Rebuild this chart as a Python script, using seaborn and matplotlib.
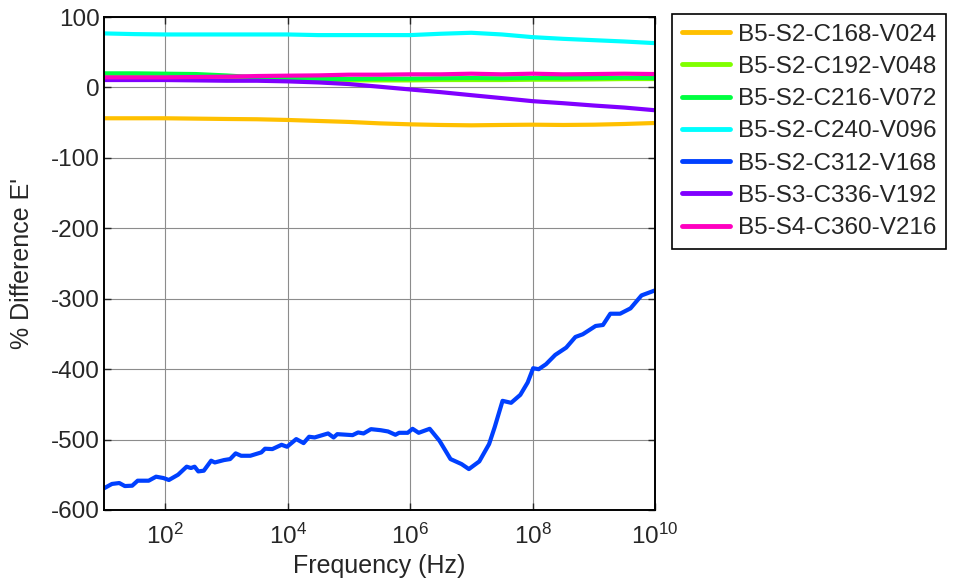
import numpy as np
import pandas as pd
import matplotlib
matplotlib.use("Agg")
import matplotlib.pyplot as plt
import seaborn as sns

# log10 of frequency (Hz) for the smooth series
log_f = [1.0, 1.5, 2.0, 2.5, 3.0, 3.5, 4.0, 4.5, 5.0, 5.5,
         6.0, 6.5, 7.0, 7.5, 8.0, 8.5, 9.0, 9.5, 10.0]

v024 = [-43.8, -43.8, -43.8, -44.3, -44.8, -45.2, -46.2, -47.6, -49.0, -51.0,
        -52.4, -53.3, -53.8, -53.3, -52.9, -53.3, -52.9, -51.9, -50.5]
v048 = [19.0, 18.6, 18.1, 17.1, 15.2, 13.3, 11.4, 10.5, 10.0, 10.0,
        10.0, 10.5, 10.5, 10.5, 11.0, 11.0, 11.4, 11.9, 11.9]
v072 = [20.0, 20.0, 19.5, 19.0, 17.0, 14.3, 12.9, 11.9, 11.9, 12.4,
        12.4, 12.9, 13.3, 12.9, 13.3, 13.3, 13.3, 13.8, 13.3]
v096 = [76.7, 75.7, 75.2, 75.2, 75.2, 75.2, 75.2, 74.3, 74.3, 74.3,
        74.3, 76.2, 77.6, 75.2, 71.4, 69.0, 67.1, 65.2, 62.9]
v192 = [10.5, 10.5, 10.5, 10.0, 9.5, 9.5, 8.6, 7.1, 4.8, 1.0,
        -2.9, -6.7, -11.0, -15.2, -19.5, -22.4, -25.7, -28.6, -32.4]
v216 = [14.3, 14.3, 14.3, 14.8, 15.2, 16.2, 16.7, 17.1, 18.1, 18.1,
        18.6, 18.6, 19.5, 18.6, 19.5, 18.6, 19.0, 19.5, 19.0]

# V168 series, sampled more densely (log10 frequency, % difference)
log_f168 = [1.00, 1.13, 1.25, 1.34, 1.46, 1.55, 1.73, 1.85, 1.97, 2.06,
            2.21, 2.35, 2.42, 2.48, 2.54, 2.63, 2.75, 2.81, 2.96, 3.06,
            3.15, 3.24, 3.39, 3.57, 3.63, 3.75, 3.90, 3.99, 4.14, 4.26,
            4.35, 4.44, 4.66, 4.75, 4.81, 5.06, 5.15, 5.24, 5.36, 5.52,
            5.64, 5.76, 5.82, 5.96, 6.04, 6.14, 6.32, 6.48, 6.66, 6.84,
            6.96, 7.13, 7.29, 7.38, 7.51, 7.65, 7.80, 7.92, 8.01, 8.10,
            8.22, 8.37, 8.55, 8.70, 8.82, 9.03, 9.15, 9.27, 9.43, 9.60,
            9.78, 10.00]
v168 = [-569.2, -563.0, -561.7, -566.0, -565.5, -558.4, -558.4, -552.7, -554.6, -557.4,
        -549.9, -538.5, -540.4, -538.5, -545.2, -544.2, -530.0, -532.5, -529.1, -527.7,
        -519.6, -523.0, -523.0, -518.2, -513.0, -513.5, -507.4, -510.2, -499.3, -505.0,
        -496.0, -497.0, -491.3, -497.0, -492.3, -493.7, -489.9, -491.3, -485.2, -486.7,
        -488.5, -493.2, -490.4, -490.4, -484.7, -490.4, -484.7, -501.7, -527.7, -534.8,
        -541.9, -531.0, -506.4, -482.8, -445.0, -447.8, -436.5, -419.0, -398.7, -400.1,
        -393.0, -379.8, -369.4, -354.3, -350.5, -338.7, -337.3, -321.3, -321.3, -313.7,
        -295.3, -288.2]

labels = ["B5-S2-C168-V024", "B5-S2-C192-V048", "B5-S2-C216-V072",
          "B5-S2-C240-V096", "B5-S2-C312-V168", "B5-S3-C336-V192",
          "B5-S4-C360-V216"]
colors = ["#FFC000", "#80FF00", "#00FF40", "#00FFFF", "#0040FF", "#8000FF", "#FF00C0"]

x_ticks = [1e2, 1e4, 1e6, 1e8, 1e10]
y_ticks = [-600, -500, -400, -300, -200, -100, 0, 100]

series = {
    labels[0]: (log_f, v024),
    labels[1]: (log_f, v048),
    labels[2]: (log_f, v072),
    labels[3]: (log_f, v096),
    labels[4]: (log_f168, v168),
    labels[5]: (log_f, v192),
    labels[6]: (log_f, v216),
}
frames = []
for name, (lf, vals) in series.items():
    frames.append(pd.DataFrame({"freq": 10.0 ** np.asarray(lf),
                                "diff": vals, "series": name}))
df = pd.concat(frames, ignore_index=True)

sns.set_style("ticks")
plt.rcParams["font.family"] = ["Liberation Sans", "DejaVu Sans"]
plt.rcParams["mathtext.fontset"] = "custom"
plt.rcParams["mathtext.rm"] = "Liberation Sans"
plt.rcParams["mathtext.it"] = "Liberation Sans"
plt.rcParams["mathtext.default"] = "regular"
plt.rcParams["axes.unicode_minus"] = False

fig = plt.figure(figsize=(9.58, 5.88), dpi=100)
ax = fig.add_axes([104 / 958, 1 - 510 / 588, (655 - 104) / 958, (510 - 17) / 588])

sns.lineplot(data=df, x="freq", y="diff", hue="series", hue_order=labels,
             palette=dict(zip(labels, colors)), estimator=None, sort=True,
             linewidth=3.0, ax=ax, legend=True)

ax.set_xscale("log")
ax.set_xlim(10, 1e10)
ax.set_ylim(-600, 100)
ax.set_xticks(x_ticks)
ax.xaxis.set_minor_locator(matplotlib.ticker.NullLocator())
ax.set_yticks(y_ticks)
ax.grid(True, color="#8c8c8c", linewidth=0.8)
ax.set_axisbelow(True)
ax.tick_params(direction="in", top=True, right=True, length=5, width=1,
               labelsize=17.5)
ax.tick_params(axis="y", pad=3)
ax.tick_params(axis="x", pad=10)
for s in ax.spines.values():
    s.set_linewidth(1.4)
    s.set_color("black")

ax.set_xlabel("Frequency (Hz)", fontsize=18)
ax.set_ylabel("% Difference E'", fontsize=18)
ax.yaxis.set_label_coords(-0.127, 0.5)
ax.xaxis.set_label_coords(0.5, -0.09)

handles, lbls = ax.get_legend_handles_labels()
leg = ax.legend(handles, lbls, loc="upper left",
                bbox_to_anchor=(672 / 958, 1 - 14 / 588),
                bbox_transform=fig.transFigure, fontsize=17.5, frameon=True,
                fancybox=False, edgecolor="black", framealpha=1,
                borderaxespad=0, borderpad=0.4, labelspacing=0.42,
                handlelength=2.0, handletextpad=0.3)
leg.get_frame().set_linewidth(1.2)
for h in leg.get_lines():
    h.set_linewidth(3.5)

fig.savefig("out.png", dpi=100)
